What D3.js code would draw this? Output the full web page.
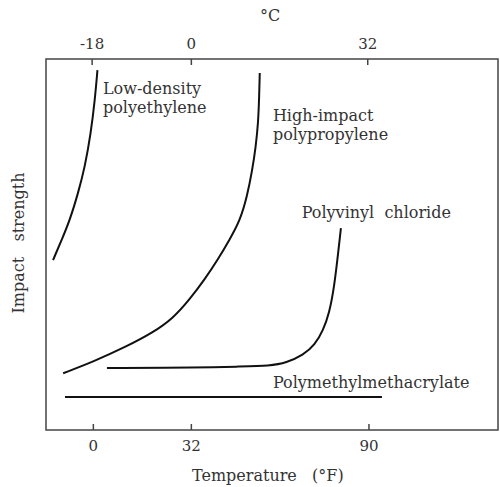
<!DOCTYPE html>
<html lang="en">
<head>
<meta charset="utf-8">
<title>Impact strength vs temperature</title>
<script src="https://d3js.org/d3.v7.min.js"></script>
<style>
body { margin: 0; background: #fff; }
text { font-family: "DejaVu Serif", "Liberation Serif", serif; fill: #333; white-space: pre; }
</style>
</head>
<body>
<div id="chart"></div>
<script>
// temperature in deg F, impact strength in arbitrary units (0-100)
var ldpeF = [-13.0, -10.2, -7.5, -4.8, -2.6, -0.65, 0.65, 1.5];
var ldpeI = [45.8, 51.2, 56.6, 63.9, 70.9, 80.1, 88.9, 97.0];
var hippF = [-9.7, 0.1, 11.0, 19.7, 26.2, 31.7, 36.6, 40.8, 44.7, 48.0, 50.4, 52.0, 53.2, 54.0, 54.3, 54.5];
var hippI = [15.3, 18.4, 22.5, 26.3, 30.1, 35.3, 40.7, 45.9, 51.4, 56.3, 63.1, 69.8, 76.3, 83.0, 89.5, 96.2];
var pvcF = [4.6, 34.9, 48.0, 57.8, 63.2, 68.7, 72.5, 75.2, 77.2, 78.8, 80.1, 81.0];
var pvcI = [16.7, 16.8, 17.1, 17.3, 18.1, 20.2, 22.9, 26.9, 31.5, 38.5, 47.7, 54.4];
var pmmaF = [-9.1, 94.4];
var pmmaI = [8.9, 8.9];

var bottomTicks = [0, 32, 90];        // deg F
var topTicks = [-18, 0, 32];          // deg C
var names = ["Low-density", "polyethylene", "High-impact", "polypropylene",
             "Polyvinyl  chloride", "Polymethylmethacrylate"];

var width = 500, height = 487;
var margin = {top: 59, right: 2, bottom: 57, left: 46};

var svg = d3.select("#chart").append("svg")
    .attr("width", width)
    .attr("height", height);

var x = d3.scaleLinear().domain([-15.3, 132.3]).range([margin.left, width - margin.right]);
var y = d3.scaleLinear().domain([0, 100]).range([height - margin.bottom, margin.top]);
var xc = d3.scaleLinear().domain([(-15.3 - 32) * 5 / 9, (132.3 - 32) * 5 / 9])
    .range([margin.left, width - margin.right]);

// frame
svg.append("rect")
    .attr("x", margin.left).attr("y", margin.top)
    .attr("width", width - margin.left - margin.right)
    .attr("height", height - margin.top - margin.bottom)
    .attr("fill", "none").attr("stroke", "#444").attr("stroke-width", 1.5);

// axes, ticks pointing inward
var axB = svg.append("g")
    .attr("transform", "translate(0," + (height - margin.bottom) + ")")
    .call(d3.axisBottom(x).tickValues(bottomTicks).tickFormat(String)
        .tickSizeInner(-6).tickSizeOuter(0).tickPadding(10));
var axT = svg.append("g")
    .attr("transform", "translate(0," + margin.top + ")")
    .call(d3.axisTop(xc).tickValues(topTicks).tickFormat(String)
        .tickSizeInner(-6).tickSizeOuter(0).tickPadding(10));
[axB, axT].forEach(function(g) {
    g.select(".domain").remove();
    g.selectAll(".tick line").attr("stroke", "#444").attr("stroke-width", 1.5);
    g.selectAll(".tick text").style("font-family", "DejaVu Serif").style("font-size", "15px").attr("fill", "#333");
});

// axis titles
svg.append("text").attr("x", 270).attr("y", 21).attr("text-anchor", "middle")
    .style("font-size", "16px").text("\u00B0C");
svg.append("text").attr("x", 192).attr("y", 481)
    .style("font-size", "16px").text("Temperature   (\u00B0F)");
svg.append("text").attr("transform", "translate(24,243) rotate(-90)").attr("text-anchor", "middle")
    .style("font-size", "16px").text("Impact   strength");

// curves
var series = [
    [ldpeF, ldpeI],
    [hippF, hippI],
    [pvcF, pvcI],
    [pmmaF, pmmaI]
];
var line = d3.line()
    .x(function(d) { return x(d[0]); })
    .y(function(d) { return y(d[1]); })
    .curve(d3.curveBasis);

svg.selectAll("path.curve")
    .data(series.map(function(s) { return d3.zip(s[0], s[1]); }))
    .enter().append("path")
    .attr("class", "curve")
    .attr("d", line)
    .attr("fill", "none")
    .attr("stroke", "#111")
    .attr("stroke-width", 2);

// curve labels: [name index, F, impact]
var labelPos = [[0, 3.3, 90.6], [1, 3.3, 85.5], [2, 58.8, 83.3], [3, 58.8, 78.2],
                [4, 68.2, 57.1], [5, 58.8, 11.3]];
svg.selectAll("text.lab")
    .data(labelPos)
    .enter().append("text")
    .attr("class", "lab")
    .attr("x", function(d) { return x(d[1]); })
    .attr("y", function(d) { return y(d[2]); })
    .style("font-size", "16px")
    .text(function(d) { return names[d[0]]; });
</script>
</body>
</html>
